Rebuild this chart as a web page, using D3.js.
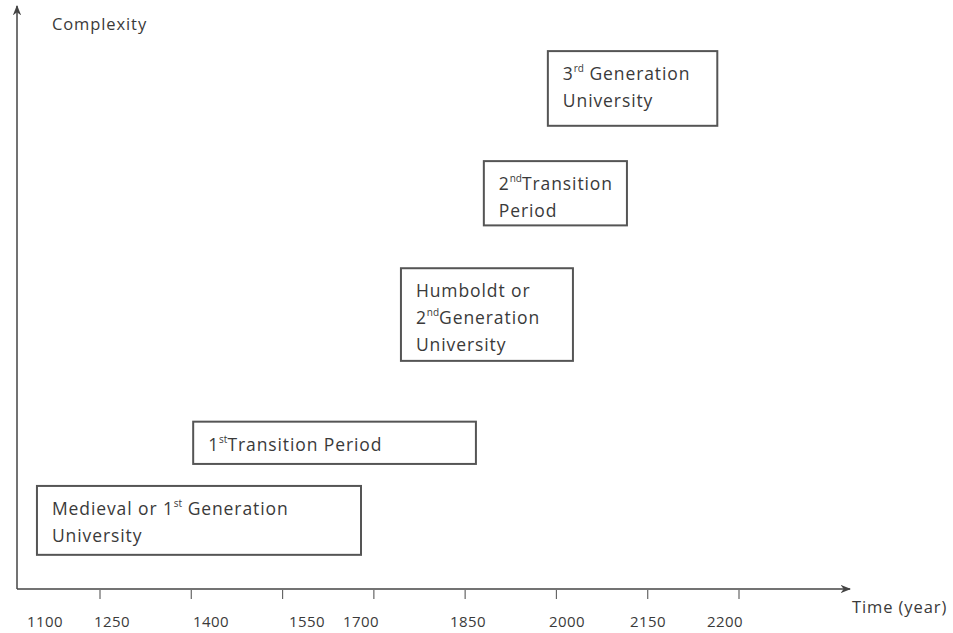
<!DOCTYPE html>
<html><head><meta charset="utf-8">
<script src="https://cdn.jsdelivr.net/npm/d3@7"></script>
<style>
html,body{margin:0;padding:0;background:#fff;}
svg text{font-family:"Open Sans","Liberation Sans",sans-serif;fill:#3a3a3a;}
</style></head>
<body><svg id="chart" width="953" height="633"></svg>
<script>
// Year tick labels along the time axis
const yearLabels = [1100, 1250, 1400, 1550, 1700, 1850, 2000, 2150, 2200];
// Number of tick marks on the time axis
const tickCount = 8;
// Phases: name lines (with superscript parts), start/end year, complexity low/high
const phaseNames = [
  [["Medieval or 1", "st", " Generation"], ["University"]],
  [["1", "st", "Transition Period"]],
  [["Humboldt or"], ["2", "nd", "Generation"], ["University"]],
  [["2", "nd", "Transition"], ["Period"]],
  [["3", "rd", " Generation"], ["University"]]
];
const phaseStart = [1082, 1373, 1756, 1874, 1971];
const phaseEnd   = [1700, 1862, 2011, 2111, 2195];
const complexityLow  = [5.9, 21.6, 39.4, 62.8, 80.0];
const complexityHigh = [17.8, 28.9, 55.4, 73.9, 92.9];

const svg = d3.select("#chart");
const origin = {x: 17, y: 589};

// piecewise time scale (the original axis is not uniform)
const x = d3.scaleLinear()
  .domain(yearLabels)
  .range([45, 112, 211, 307, 361, 468, 567, 648, 725]);
const y = d3.scaleLinear().domain([0, 100]).range([origin.y, 10]);
const tickScale = d3.scaleLinear().domain([1, tickCount]).range([100, 739]);

const axisColor = "#444";
svg.append("defs").append("marker")
  .attr("id", "arr").attr("viewBox", "0 0 10 10").attr("refX", 9).attr("refY", 5)
  .attr("markerWidth", 7).attr("markerHeight", 7).attr("orient", "auto")
  .append("path").attr("d", "M0,1 L10,5 L0,9 L3,5 Z").attr("fill", axisColor);

svg.append("line").attr("x1", origin.x).attr("y1", origin.y).attr("x2", origin.x).attr("y2", 6)
  .attr("stroke", axisColor).attr("stroke-width", 1.5).attr("marker-end", "url(#arr)");
svg.append("line").attr("x1", origin.x).attr("y1", origin.y).attr("x2", 850).attr("y2", origin.y)
  .attr("stroke", axisColor).attr("stroke-width", 1.5).attr("marker-end", "url(#arr)");

svg.selectAll(".tk").data(d3.range(1, tickCount + 1)).join("line")
  .attr("x1", d => tickScale(d)).attr("x2", d => tickScale(d))
  .attr("y1", origin.y + 1).attr("y2", origin.y + 10)
  .attr("stroke", "#666").attr("stroke-width", 1.2);

svg.selectAll(".yl").data(yearLabels).join("text")
  .attr("x", d => x(d)).attr("y", 627).attr("text-anchor", "middle")
  .attr("font-size", 15).attr("letter-spacing", 0.4).text(d => d);

svg.append("text").attr("x", 52).attr("y", 30).attr("font-size", 16.5).attr("letter-spacing", 0.9).text("Complexity");
svg.append("text").attr("x", 852).attr("y", 613).attr("font-size", 16.5).attr("letter-spacing", 0.9).text("Time (year)");

const phases = phaseNames.map((n, i) => ({
  lines: n, x0: phaseStart[i], x1: phaseEnd[i], lo: complexityLow[i], hi: complexityHigh[i]
}));
const g = svg.selectAll(".ph").data(phases).join("g");
g.append("rect")
  .attr("x", d => x(d.x0)).attr("y", d => y(d.hi))
  .attr("width", d => x(d.x1) - x(d.x0)).attr("height", d => y(d.lo) - y(d.hi))
  .attr("fill", "#fff").attr("stroke", "#555").attr("stroke-width", 2);
g.each(function(d) {
  const sel = d3.select(this);
  d.lines.forEach((parts, li) => {
    const t = sel.append("text").attr("x", x(d.x0) + 15).attr("y", y(d.hi) + 29 + li * 27)
      .attr("font-size", 17.5).attr("letter-spacing", 0.9);
    parts.forEach((p, pi) => {
      const ts = t.append("tspan").text(p);
      if (pi === 1) ts.attr("font-size", 10).attr("dy", -8).attr("letter-spacing", 0);
      if (pi === 2) ts.attr("dy", 8);
    });
  });
});
</script></body></html>
